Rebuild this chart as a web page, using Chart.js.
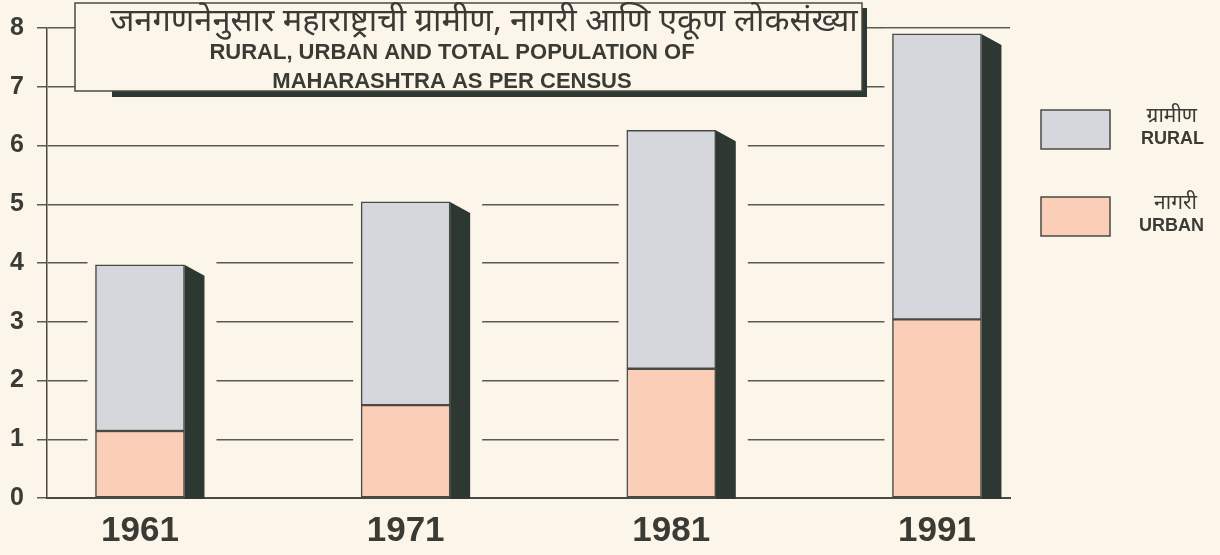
<!DOCTYPE html>
<html>
<head>
<meta charset="utf-8">
<script src="https://cdn.jsdelivr.net/npm/chart.js@4.4.1/dist/chart.umd.min.js"></script>
<style>
  html, body { margin: 0; padding: 0; background: #fcf5ea; }
  #wrap { width: 1220px; height: 555px; }
</style>
</head>
<body>
<div id="wrap"><canvas id="popChart" width="1220" height="555"></canvas></div>
<script>
// Census years
const years = [1961, 1971, 1981, 1991];
// Urban population (crore)
const urbanPop = [1.14, 1.58, 2.20, 3.04];
// Rural population (crore), stacked on top of urban
const ruralPop = [2.83, 3.46, 4.06, 4.86];
// Y axis ticks
const yTicks = [0, 1, 2, 3, 4, 5, 6, 7, 8];

const titleMr = 'जनगणनेनुसार महाराष्ट्राची ग्रामीण, नागरी आणि एकूण लोकसंख्या';
const titleEn = ['RURAL, URBAN AND TOTAL POPULATION OF', 'MAHARASHTRA AS PER CENSUS'];
const legendMr = ['ग्रामीण', 'नागरी'];
const legendEn = ['RURAL', 'URBAN'];

// colours
const bgColor = '#fcf5ea';
const ruralColor = '#d5d7dd';
const urbanColor = '#fbceb8';
const edgeColor = '#4a4a45';
const shadowColor = '#2e3833';
const textColor = '#3b3b36';
const latin = '"Liberation Sans", Arial, sans-serif';
const deva = '"Noto Sans Devanagari", "Lohit Devanagari", "Noto Sans", sans-serif';

// page background
const paperBg = {
  id: 'paperBg',
  beforeDraw(chart) {
    const ctx = chart.ctx;
    ctx.save();
    ctx.fillStyle = bgColor;
    ctx.fillRect(0, 0, chart.width, chart.height);
    ctx.restore();
  }
};

// gap in grid lines round each bar + the dark 3D shadow on its right
const barShadow = {
  id: 'barShadow',
  beforeDatasetsDraw(chart) {
    const ctx = chart.ctx;
    const top = chart.getDatasetMeta(1).data;
    const base = chart.scales.y.getPixelForValue(0);
    ctx.save();
    top.forEach(el => {
      const left = el.x - el.width / 2;
      const right = el.x + el.width / 2;
      ctx.fillStyle = bgColor;
      ctx.fillRect(left - 8, el.y - 5, el.width + 8 + 32, base - el.y + 3);
      ctx.fillStyle = shadowColor;
      ctx.beginPath();
      ctx.moveTo(right, el.y);
      ctx.lineTo(right + 20, el.y + 11);
      ctx.lineTo(right + 20, base + 1);
      ctx.lineTo(right, base + 1);
      ctx.closePath();
      ctx.fill();
    });
    ctx.restore();
  }
};

// boxed title at the top
const titleBox = {
  id: 'titleBox',
  afterDraw(chart) {
    const ctx = chart.ctx;
    ctx.save();
    ctx.fillStyle = shadowColor;
    ctx.fillRect(112, 91, 755, 6);
    ctx.fillRect(862, 8, 5, 89);
    ctx.fillStyle = bgColor;
    ctx.fillRect(75, 3, 787, 88);
    ctx.strokeStyle = edgeColor;
    ctx.lineWidth = 1.5;
    ctx.strokeRect(75, 3, 787, 88);

    ctx.fillStyle = textColor;
    ctx.textAlign = 'center';
    ctx.textBaseline = 'middle';
    // fit the marathi line to its width in the original
    let size = 30;
    ctx.font = size + 'px ' + deva;
    const w = ctx.measureText(titleMr).width;
    size = Math.min(34, size * 748 / w);
    ctx.font = size + 'px ' + deva;
    ctx.fillText(titleMr, 484, 25);

    ctx.font = 'bold 22px ' + latin;
    ctx.fillText(titleEn[0], 452, 53);
    ctx.fillText(titleEn[1], 452, 82);
    ctx.restore();
  }
};

// legend on the right
const legendBox = {
  id: 'legendBox',
  afterDraw(chart) {
    const ctx = chart.ctx;
    const fills = [ruralColor, urbanColor];
    const tops = [110, 197];
    ctx.save();
    fills.forEach((c, i) => {
      ctx.fillStyle = c;
      ctx.fillRect(1041, tops[i], 69, 39);
      ctx.strokeStyle = edgeColor;
      ctx.lineWidth = 1.5;
      ctx.strokeRect(1041, tops[i], 69, 39);
      ctx.fillStyle = textColor;
      ctx.textAlign = 'right';
      ctx.textBaseline = 'middle';
      ctx.font = '21px ' + deva;
      ctx.fillText(legendMr[i], 1197, tops[i] + 8);
      ctx.font = 'bold 18px ' + latin;
      ctx.fillText(legendEn[i], 1204, tops[i] + 29);
    });
    ctx.restore();
  }
};

const chart = new Chart(document.getElementById('popChart'), {
  type: 'bar',
  data: {
    datasets: [
      {
        label: 'नागरी URBAN',
        data: years.map((yr, i) => ({ x: yr, y: urbanPop[i] })),
        backgroundColor: urbanColor,
        borderColor: edgeColor,
        borderWidth: 1.5,
        borderSkipped: false,
        barThickness: 89
      },
      {
        label: 'ग्रामीण RURAL',
        data: years.map((yr, i) => ({ x: yr, y: ruralPop[i] })),
        backgroundColor: ruralColor,
        borderColor: edgeColor,
        borderWidth: 1.5,
        borderSkipped: false,
        barThickness: 89
      }
    ]
  },
  options: {
    responsive: false,
    animation: false,
    layout: { padding: { top: 24, right: 210, left: 0, bottom: 0 } },
    plugins: {
      legend: { display: false },
      tooltip: { enabled: false },
      title: { display: false }
    },
    scales: {
      x: {
        type: 'linear',
        stacked: true,
        offset: false,
        min: 1957.5,
        max: 1993.75,
        afterBuildTicks: s => { s.ticks = years.map(v => ({ value: v })); },
        afterFit: s => { s.height = 57; },
        grid: { display: false, drawTicks: false },
        border: { display: true, color: edgeColor, width: 2 },
        ticks: {
          font: { family: latin, size: 35, weight: 'bold' },
          color: textColor,
          padding: 12,
          maxRotation: 0,
          autoSkip: false,
          callback: v => String(v)
        }
      },
      y: {
        stacked: true,
        min: 0,
        max: 8,
        afterBuildTicks: s => { s.ticks = yTicks.map(v => ({ value: v })); },
        afterFit: s => { s.width = 47; },
        grid: { color: '#5a5a55', lineWidth: 1.5, tickLength: 10 },
        border: { display: true, color: edgeColor, width: 1.5 },
        ticks: {
          font: { family: latin, size: 25, weight: 'bold' },
          color: textColor,
          padding: 13
        }
      }
    }
  },
  plugins: [paperBg, barShadow, titleBox, legendBox]
});
</script>
</body>
</html>
